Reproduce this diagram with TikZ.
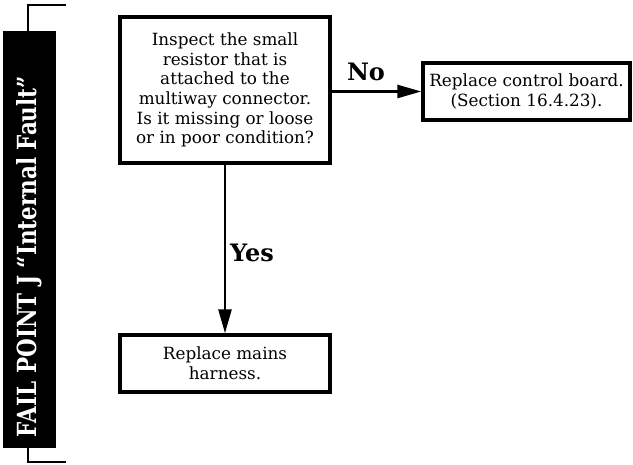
\documentclass[tikz,border=0pt]{standalone}
\usepackage{fontspec}
\setmainfont{DejaVu Serif}
\usetikzlibrary{arrows.meta}
\tikzset{
  stepbox/.style={draw, line width=3.4pt, fill=white, align=center, inner sep=0pt,
    font=\fontsize{16.8}{19.6}\selectfont},
  arr/.style={line width=2.6pt, -{Triangle[length=24pt,width=13pt]}},
  answer/.style={font=\fontsize{24}{26}\selectfont\bfseries},
}
\begin{document}
\begin{tikzpicture}[x=1pt, y=-1pt, line join=miter]
			\useasboundingbox (0,0) rectangle (633,465);
			% side bar
			\coordinate (T1) at (66,5);
			\coordinate (T2) at (28,5);
			\coordinate (T3) at (28,31);
			\coordinate (B1) at (28,448);
			\coordinate (B2) at (28,462);
			\coordinate (B3) at (66,462);
			\draw[line width=2.6pt] (T1) -- (T2) -- (T3)  (B1) -- (B2) -- (B3);
			\fill (3,31) rectangle (56,448);
			\node[rotate=90, anchor=south, inner sep=0pt, text=white] (title) at (42,256.5)
				{\resizebox{361pt}{20pt}{\bfseries FAIL POINT J “Internal Fault”}};
			% boxes
			\node[stepbox, minimum width=210pt, minimum height=146pt] (check) at (225,90)
				{Inspect the small\\resistor that is\\attached to the\\multiway connector.\\Is it missing or loose\\or in poor condition?};
			\node[stepbox, minimum width=207pt, minimum height=57pt] (board) at (526.5,91.5)
				{Replace control board.\\(Section 16.4.23).};
			\node[stepbox, minimum width=210pt, minimum height=57pt] (harness) at (225,363.5)
				{Replace mains\\harness.};
			% connectors
			\draw[arr] (board.west -| check.east) -- (board.west);
			\draw[arr] (check.south) -- (harness.north);
			\node[answer] (no) at (366,72) {No};
			\node[answer] (yes) at (252,253) {Yes};
		\end{tikzpicture}
\end{document}
